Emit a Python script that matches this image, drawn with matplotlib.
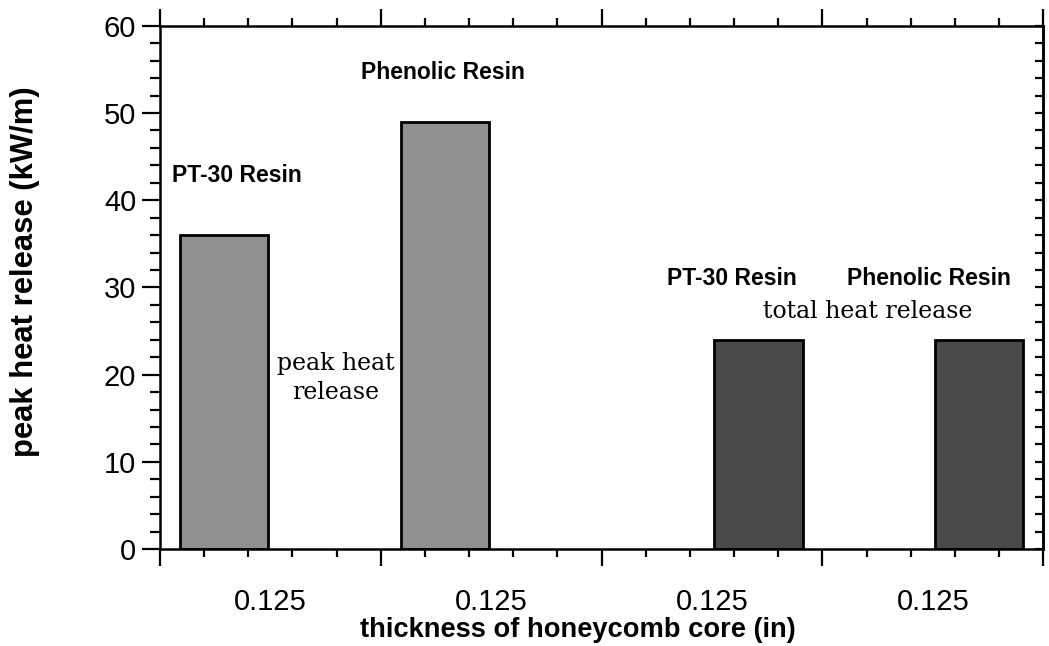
import matplotlib
matplotlib.use('Agg')
import matplotlib.pyplot as plt
from matplotlib.ticker import MultipleLocator, NullFormatter, NullLocator

plt.rcParams['font.family'] = ['Liberation Sans', 'DejaVu Sans']

# 数据
categories = ['0.125', '0.125', '0.125', '0.125']
peak_values = [36, 49, 0, 0]     # 峰值放热
total_values = [0, 0, 24, 24]    # 总放热
resin_labels = ['PT-30 Resin', 'Phenolic Resin', 'PT-30 Resin', 'Phenolic Resin']

fig = plt.figure(figsize=(10.49, 6.46), dpi=100)
ax = fig.add_axes([0.1525, 0.150, 0.842, 0.810])

centers = [i + 0.5 for i in range(len(categories))]
w = 0.4

# 只画非零的柱子
px = [c - 0.21 for c, v in zip(centers, peak_values) if v > 0]
pv = [v for v in peak_values if v > 0]
tx = [c + 0.21 for c, v in zip(centers, total_values) if v > 0]
tv = [v for v in total_values if v > 0]
ax.bar(px, pv, width=w, color='#909090', edgecolor='black', linewidth=2)
ax.bar(tx, tv, width=w, color='#4a4a4a', edgecolor='black', linewidth=2)

ax.set_xlim(0, 4)
ax.set_ylim(0, 60)

# 主刻度 / 次刻度
ax.xaxis.set_major_locator(MultipleLocator(1))
ax.xaxis.set_minor_locator(MultipleLocator(0.2))
ax.xaxis.set_major_formatter(NullFormatter())
ax.yaxis.set_major_locator(MultipleLocator(10))
ax.yaxis.set_minor_locator(MultipleLocator(2))
ax.tick_params(axis='x', which='major', direction='out', length=12, width=1.6,
               top=True, bottom=True)
ax.tick_params(axis='x', which='minor', direction='out', length=6, width=1.6,
               top=True, bottom=True)
ax.tick_params(axis='y', which='major', direction='out', length=13, width=1.6,
               labelsize=21, pad=4)
ax.tick_params(axis='y', which='minor', direction='out', length=7, width=1.6)
for s in ax.spines.values():
    s.set_linewidth(1.8)

# 右侧刻度向内
sec_y = ax.secondary_yaxis('right')
sec_y.yaxis.set_major_locator(MultipleLocator(10))
sec_y.yaxis.set_minor_locator(MultipleLocator(2))
sec_y.tick_params(axis='y', which='both', direction='in', length=6, width=1.6,
                  labelright=False)
sec_y.spines['right'].set_linewidth(1.8)

# 类别标签放在区间中间
sec_x = ax.secondary_xaxis('bottom')
sec_x.set_xticks(centers)
sec_x.set_xticklabels(categories)
sec_x.tick_params(axis='x', which='both', length=0, labelsize=21, pad=28)
sec_x.xaxis.set_minor_locator(NullLocator())
sec_x.spines['bottom'].set_visible(False)

ax.text(0.473, -0.155, 'thickness of honeycomb core (in)', transform=ax.transAxes,
        fontsize=19.6, fontweight='bold', ha='center', va='center')
ax.set_ylabel('peak heat release (kW/m)', fontsize=22.3, fontweight='bold',
              va='center')
ax.yaxis.set_label_coords(-0.153, 0.53)

# 注释
ax.text(0.055, 42.8, resin_labels[0], fontsize=16.5, fontweight='bold', va='center')
ax.text(0.91, 54.6, resin_labels[1], fontsize=16.5, fontweight='bold', va='center')
ax.text(2.295, 31.0, resin_labels[2], fontsize=16.5, fontweight='bold', va='center')
ax.text(3.11, 31.0, resin_labels[3], fontsize=16.5, fontweight='bold', va='center')
ax.text(0.795, 19.6, 'peak heat\nrelease', fontsize=17, family='DejaVu Serif',
        ha='center', va='center', linespacing=1.35)
ax.text(3.205, 27.2, 'total heat release', fontsize=17, family='DejaVu Serif',
        ha='center', va='center')

plt.savefig('out.png', dpi=100)
